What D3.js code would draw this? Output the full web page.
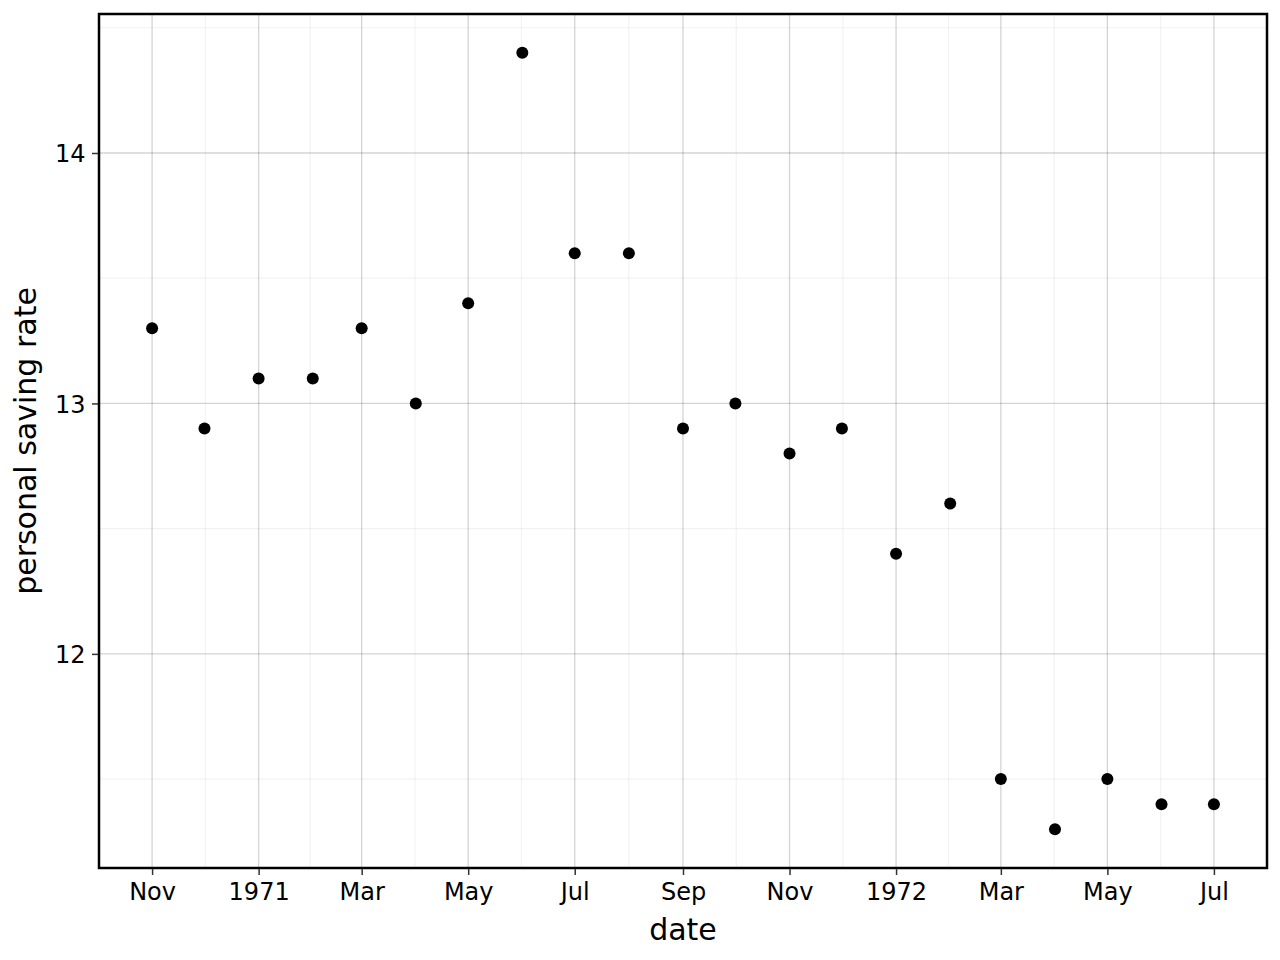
<!DOCTYPE html>
<html><head><meta charset="utf-8">
<script src="https://cdn.jsdelivr.net/npm/d3@7"></script>
<style>body{margin:0;background:#fff}svg{display:block}text{font-family:"DejaVu Sans",sans-serif}</style>
</head><body>
<svg id="c" width="1280" height="960"></svg>
<script>
const dates = ["1970-11-01","1970-12-01","1971-01-01","1971-02-01","1971-03-01","1971-04-01","1971-05-01","1971-06-01","1971-07-01","1971-08-01","1971-09-01","1971-10-01","1971-11-01","1971-12-01","1972-01-01","1972-02-01","1972-03-01","1972-04-01","1972-05-01","1972-06-01","1972-07-01"];
const psavert = [13.3,12.9,13.1,13.1,13.3,13.0,13.4,14.4,13.6,13.6,12.9,13.0,12.8,12.9,12.4,12.6,11.5,11.3,11.5,11.4,11.4];
const xTickDates = ["1970-11-01","1971-01-01","1971-03-01","1971-05-01","1971-07-01","1971-09-01","1971-11-01","1972-01-01","1972-03-01","1972-05-01","1972-07-01"];
const xTickLabels = ["Nov","1971","Mar","May","Jul","Sep","Nov","1972","Mar","May","Jul"];
const yTicks = [12,13,14];
const yMinor = [11.5,12.5,13.5,14.5];

const parse = d3.utcParse("%Y-%m-%d");
const data = dates.map((d,i)=>({date:parse(d), v:psavert[i]}));
const svg = d3.select("#c");
const L=99, R=1267, T=14, B=868;

const dExt = d3.extent(data,d=>+d.date);
const dPad = (dExt[1]-dExt[0])*0.05;
const x = d3.scaleUtc().domain([new Date(dExt[0]-dPad), new Date(dExt[1]+dPad)]).range([L,R]);
const vExt = d3.extent(psavert);
const vPad = (vExt[1]-vExt[0])*0.05;
const y = d3.scaleLinear().domain([vExt[0]-vPad, vExt[1]+vPad]).range([B,T]);

const xt = xTickDates.map(parse);
const xMinor = [];
for(let i=0;i<xt.length-1;i++) xMinor.push(new Date((+xt[i]+ +xt[i+1])/2));
const step = (+xt[1]-+xt[0]);
const before = new Date(+xt[0]-step/2); if(x(before)>=L) xMinor.push(before);
const after = new Date(+xt[xt.length-1]+step/2); if(x(after)<=R) xMinor.push(after);

const g = svg.append("g");
g.selectAll(".mx").data(xMinor).join("line").attr("x1",d=>x(d)).attr("x2",d=>x(d)).attr("y1",T).attr("y2",B).attr("stroke","#000").attr("stroke-opacity",0.05).attr("stroke-width",1.2);
g.selectAll(".my").data(yMinor.filter(v=>y(v)>=T&&y(v)<=B)).join("line").attr("x1",L).attr("x2",R).attr("y1",d=>y(d)).attr("y2",d=>y(d)).attr("stroke","#000").attr("stroke-opacity",0.05).attr("stroke-width",1.2);
g.selectAll(".gx").data(xt).join("line").attr("x1",d=>x(d)).attr("x2",d=>x(d)).attr("y1",T).attr("y2",B).attr("stroke","#000").attr("stroke-opacity",0.17).attr("stroke-width",1.3);
g.selectAll(".gy").data(yTicks).join("line").attr("x1",L).attr("x2",R).attr("y1",d=>y(d)).attr("y2",d=>y(d)).attr("stroke","#000").attr("stroke-opacity",0.17).attr("stroke-width",1.3);

svg.append("g").selectAll("circle").data(data).join("circle")
  .attr("cx",d=>x(d.date)).attr("cy",d=>y(d.v)).attr("r",6).attr("fill","#000");

svg.append("rect").attr("x",L).attr("y",T).attr("width",R-L).attr("height",B-T).attr("fill","none").attr("stroke","#000").attr("stroke-width",2.5);

const xAxis = d3.axisBottom(x).tickValues(xt).tickFormat((d,i)=>xTickLabels[i]).tickSize(6);
const ax = svg.append("g").attr("transform",`translate(0,${B+1})`).call(xAxis);
ax.select(".domain").remove();
ax.selectAll("line").attr("stroke","#333").attr("stroke-width",1.5);
ax.selectAll("text").attr("y",30.5).attr("dy",null).attr("font-size",24).attr("fill","#000").attr("font-family","DejaVu Sans");

const yAxis = d3.axisLeft(y).tickValues(yTicks).tickFormat(d3.format("d")).tickSize(6);
const ay = svg.append("g").attr("transform",`translate(${L-1},0)`).call(yAxis);
ay.select(".domain").remove();
ay.selectAll("line").attr("stroke","#333").attr("stroke-width",1.5);
ay.selectAll("text").attr("x",-12.5).attr("dy","0.36em").attr("font-size",24).attr("fill","#000").attr("font-family","DejaVu Sans");

svg.append("text").attr("x",(L+R)/2).attr("y",940).attr("text-anchor","middle").attr("font-size",30).text("date");
svg.append("text").attr("transform",`translate(36,${(T+B)/2}) rotate(-90)`).attr("text-anchor","middle").attr("font-size",30).text("personal saving rate");
</script>
</body></html>
